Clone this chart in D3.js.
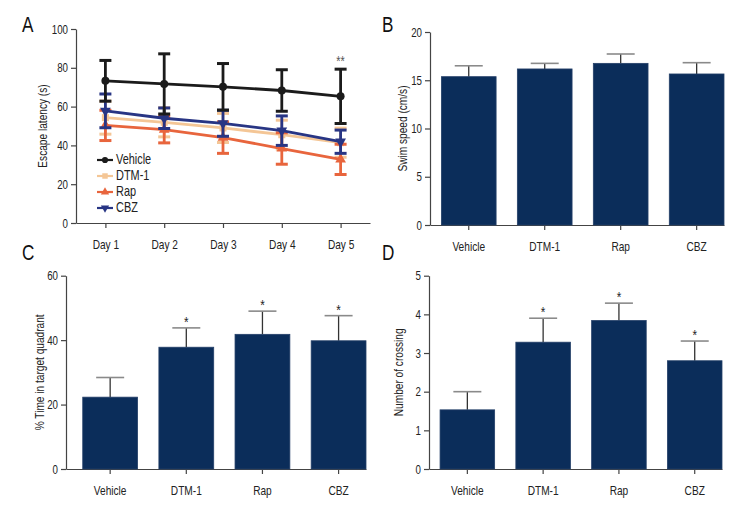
<!DOCTYPE html>
<html><head><meta charset="utf-8">
<script src="https://cdn.jsdelivr.net/npm/d3@7"></script>
<style>
body{margin:0;background:#fff;}
svg{font-family:"Liberation Sans",Arial,sans-serif;}
</style></head><body>
<svg id="c" width="756" height="516"></svg>
<script>
// ---------- data ----------
const days = ["Day 1","Day 2","Day 3","Day 4","Day 5"];
const groups = ["Vehicle","DTM-1","Rap","CBZ"];
const latencyVehicle = [73.3, 71.7, 70.2, 68.3, 65.3];
const latencyVehicleErr = [10.5, 15.5, 12.0, 10.7, 14.0];
const latencyDTM = [54.3, 51.9, 49.0, 45.5, 41.4];
const latencyDTMErr = [8.5, 7.5, 7.5, 7.5, 7.5];
const latencyRap = [50.3, 48.1, 44.0, 38.4, 32.8];
const latencyRapErr = [7.8, 6.8, 8.1, 8.1, 7.8];
const latencyCBZ = [57.8, 54.0, 51.4, 47.6, 41.9];
const latencyCBZErr = [8.7, 5.3, 6.7, 7.6, 6.0];
const latencyTicks = [0, 20, 40, 60, 80, 100];

const swimSpeed = [15.37, 16.17, 16.75, 15.65];
const swimSpeedErr = [1.13, 0.58, 0.97, 1.17];
const swimTicks = [0, 5, 10, 15, 20];

const timeTarget = [22.3, 37.8, 41.8, 39.8];
const timeTargetErr = [6.1, 6.0, 7.2, 7.8];
const timeTargetSig = ["", "*", "*", "*"];
const timeTicks = [0, 20, 40, 60];

const crossings = [1.53, 3.28, 3.84, 2.80];
const crossingsErr = [0.47, 0.62, 0.45, 0.51];
const crossingsSig = ["", "*", "*", "*"];
const crossTicks = [0, 1, 2, 3, 4, 5];

const seriesColors = ["#1b1b1b", "#f4c696", "#e8653d", "#283584"];
const barColor = "#0b2d5a";

const svg = d3.select("#c");
const axisColor = "#444";

function styleAxis(g){
  g.selectAll("path,line").attr("stroke", axisColor).attr("stroke-width", 1.2);
  g.selectAll("text").attr("fill", "#222").style("font-size", "12.5px");
}

function panelLetter(t, x, y){
  svg.append("text").attr("x", x).attr("y", y).text(t)
    .style("font-size", "22px").attr("fill", "#111");
}
function yLabel(t, x, y){
  svg.append("text").attr("transform", `translate(${x},${y}) rotate(-90)`)
    .attr("text-anchor", "middle").attr("dominant-baseline", "central")
    .style("font-size", "13px").attr("fill", "#222").text(t);
}

// ---------- Panel A ----------
{
  const x = d3.scalePoint().domain(days).range([76, 370]).padding(0.5);
  const y = d3.scaleLinear().domain([0, 100]).range([223, 29]);
  const gx = svg.append("g").attr("transform", "translate(0,223)")
    .call(d3.axisBottom(x).tickSize(5).tickPadding(9).tickSizeOuter(0));
  styleAxis(gx);
  gx.selectAll("text").attr("dy", "0.9em").style("font-size", "13px");
  const gy = svg.append("g").attr("transform", "translate(76,0)")
    .call(d3.axisLeft(y).tickValues(latencyTicks).tickSize(5).tickSizeOuter(0));
  styleAxis(gy);

  const series = [
    {name: "DTM-1", v: latencyDTM, e: latencyDTMErr, c: seriesColors[1], m: d3.symbolSquare},
    {name: "Rap", v: latencyRap, e: latencyRapErr, c: seriesColors[2], m: d3.symbolTriangle},
    {name: "CBZ", v: latencyCBZ, e: latencyCBZErr, c: seriesColors[3], m: "down"},
    {name: "Vehicle", v: latencyVehicle, e: latencyVehicleErr, c: seriesColors[0], m: d3.symbolCircle}
  ];
  const line = d3.line().x((d, i) => x(days[i])).y(d => y(d));
  function marker(g, s, cx, cy, size){
    if (s.m === "down") {
      g.append("path").attr("d", d3.symbol(d3.symbolTriangle, size)())
        .attr("transform", `translate(${cx},${cy}) rotate(180)`).attr("fill", s.c);
    } else {
      g.append("path").attr("d", d3.symbol(s.m, size)())
        .attr("transform", `translate(${cx},${cy})`).attr("fill", s.c);
    }
  }
  series.forEach(s => {
    const g = svg.append("g");
    g.append("path").datum(s.v).attr("d", line).attr("fill", "none")
      .attr("stroke", s.c).attr("stroke-width", 2.8);
    s.v.forEach((v, i) => {
      const cx = x(days[i]);
      const top = y(v + s.e[i]), bot = y(v - s.e[i]);
      g.append("line").attr("x1", cx).attr("x2", cx).attr("y1", top).attr("y2", bot)
        .attr("stroke", s.c).attr("stroke-width", 2.8);
      [top, bot].forEach(yy => g.append("line").attr("x1", cx - 6).attr("x2", cx + 6)
        .attr("y1", yy).attr("y2", yy).attr("stroke", s.c).attr("stroke-width", 3));
      marker(g, s, cx, y(v), 50);
    });
  });
  // significance on day 5
  svg.append("text").attr("x", x(days[4])).attr("y", y(latencyVehicle[4] + latencyVehicleErr[4]) - 3)
    .attr("text-anchor", "middle").style("font-size", "14px").attr("fill", "#555").text("**");

  // legend
  const legOrder = [3, 0, 1, 2];
  legOrder.forEach((k, i) => {
    const s = series[k];
    const ly = 160 + i * 16;
    svg.append("line").attr("x1", 97).attr("x2", 113).attr("y1", ly).attr("y2", ly)
      .attr("stroke", s.c).attr("stroke-width", 2.2);
    marker(svg, s, 105, ly, 30);
    svg.append("text").attr("x", 116).attr("y", ly).attr("dominant-baseline", "central")
      .style("font-size", "14px").attr("fill", "#222").text(s.name);
  });
  yLabel("Escape latency (s)", 42, 126);
  panelLetter("A", 22, 32);
}

// ---------- Bar panels ----------
function barPanel(opt){
  const x = d3.scaleBand().domain(groups).range([opt.x0, opt.x1])
    .paddingInner(0.28).paddingOuter(opt.po).align(1);
  const y = d3.scaleLinear().domain([0, opt.max]).range([opt.y0, opt.y1]);
  const gx = svg.append("g").attr("transform", `translate(0,${opt.y0})`)
    .call(d3.axisBottom(x).tickSize(5).tickPadding(9).tickSizeOuter(0));
  styleAxis(gx);
  gx.selectAll("text").attr("dy", "0.9em").style("font-size", "13px");
  const gy = svg.append("g").attr("transform", `translate(${opt.x0},0)`)
    .call(d3.axisLeft(y).tickValues(opt.ticks).tickFormat(d3.format("d")).tickSize(5).tickSizeOuter(0));
  styleAxis(gy);
  const g = svg.append("g");
  opt.vals.forEach((v, i) => {
    const bx = x(groups[i]), bw = x.bandwidth(), cx = bx + bw / 2;
    const top = y(v + opt.err[i]);
    g.append("line").attr("x1", cx).attr("x2", cx).attr("y1", y(v)).attr("y2", top)
      .attr("stroke", "#333").attr("stroke-width", 1.3);
    g.append("line").attr("x1", cx - 14).attr("x2", cx + 14).attr("y1", top).attr("y2", top)
      .attr("stroke", "#8a8a8a").attr("stroke-width", 1.6);
    g.append("rect").attr("x", bx).attr("y", y(v)).attr("width", bw).attr("height", opt.y0 - y(v))
      .attr("fill", barColor).attr("stroke", "#243f68").attr("stroke-width", 0.8);
    if (opt.sig && opt.sig[i]) {
      g.append("text").attr("x", cx).attr("y", top - 1).attr("text-anchor", "middle")
        .style("font-size", "15px").attr("fill", "#222").text(opt.sig[i]);
    }
  });
  yLabel(opt.label, opt.lx, (opt.y0 + opt.y1) / 2);
}

barPanel({x0: 430, x1: 724, po: 0.075, y0: 225, y1: 32, max: 20, ticks: swimTicks,
  vals: swimSpeed, err: swimSpeedErr, label: "Swim speed (cm/s)", lx: 402});
panelLetter("B", 382, 32);

barPanel({x0: 66, x1: 366, po: 0.11, y0: 469, y1: 275.7, max: 60, ticks: timeTicks,
  vals: timeTarget, err: timeTargetErr, sig: timeTargetSig, label: "% Time in target quadrant", lx: 39});
panelLetter("C", 22, 260);

barPanel({x0: 429, x1: 722, po: 0.073, y0: 469, y1: 275.7, max: 5, ticks: crossTicks,
  vals: crossings, err: crossingsErr, sig: crossingsSig, label: "Number of crossing", lx: 398});
panelLetter("D", 382, 260);

// condense all text horizontally (reference uses a condensed face)
svg.selectAll("text").each(function(){
  const t = d3.select(this);
  const tx = +t.attr("x") || 0, ty = +t.attr("y") || 0;
  const tr = t.attr("transform") || "";
  t.attr("transform", `${tr} translate(${tx},${ty}) scale(0.78,1)`).attr("x", 0).attr("y", 0);
});
</script>
</body></html>
